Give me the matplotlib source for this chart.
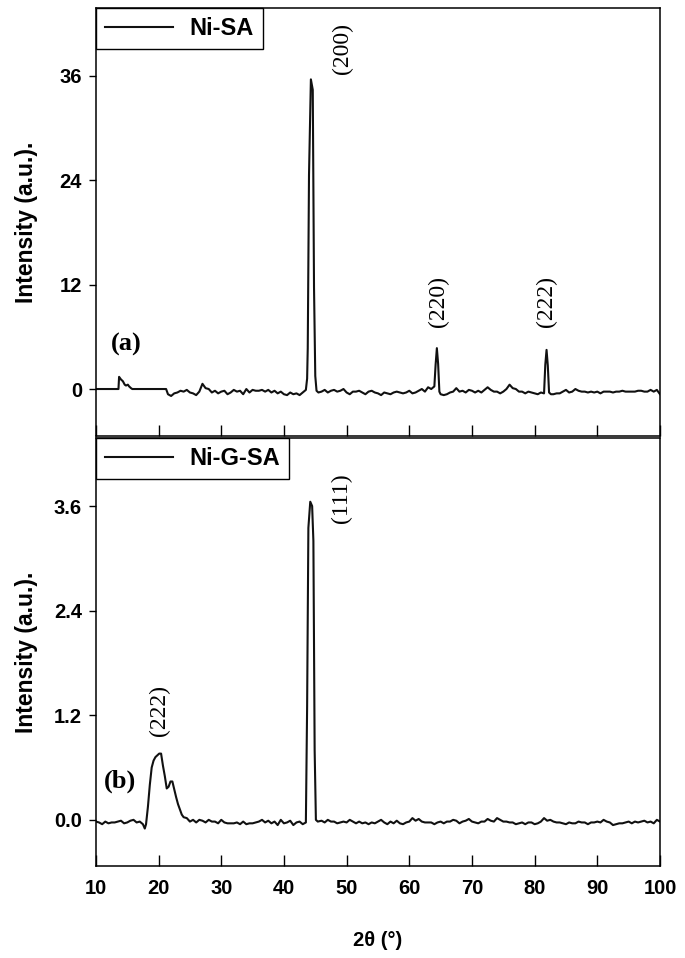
import matplotlib
matplotlib.use('Agg')
import matplotlib.pyplot as plt

plt.rcParams['font.family'] = ['Liberation Sans', 'DejaVu Sans']

# 2theta / intensity, panel (a) Ni-SA
x_a = [10, 13.6, 13.7, 14.0, 14.3, 14.6, 14.8, 15.1, 15.3, 15.6, 15.8, 21.2,
       21.5, 22, 22.5, 23, 23.5, 24, 24.5, 25, 25.5, 26, 26.5, 27, 27.5, 28, 28.5,
       29, 29.5, 30, 30.5, 31, 31.5, 32, 32.5, 33, 33.5, 34, 34.5, 35, 35.5, 36,
       36.5, 37, 37.5, 38, 38.5, 39, 39.5, 40, 40.5, 41, 41.5, 42, 42.5, 43, 43.5,
       43.7, 43.8, 44.0, 44.3, 44.6, 44.8, 45.0, 45.2, 45.5,
       46, 46.5, 47, 47.5, 48, 48.5, 49, 49.5, 50, 50.5, 51, 51.5, 52, 52.5, 53,
       53.5, 54, 54.5, 55, 55.5, 56, 56.5, 57, 57.5, 58, 58.5, 59, 59.5, 60, 60.5,
       61, 61.5, 62, 62.5, 63, 63.5, 64.0,
       64.2, 64.4, 64.6, 64.8, 65.0,
       65.5, 66, 66.5, 67, 67.5, 68, 68.5, 69, 69.5, 70, 70.5, 71, 71.5, 72, 72.5,
       73, 73.5, 74, 74.5, 75, 75.5, 76, 76.5, 77, 77.5, 78, 78.5, 79, 79.5, 80,
       80.5, 81, 81.5,
       81.7, 81.9, 82.1, 82.3, 82.6,
       83, 83.5, 84, 84.5, 85, 85.5, 86, 86.5, 87, 87.5, 88, 88.5, 89, 89.5, 90,
       90.5, 91, 91.5, 92, 92.5, 93, 93.5, 94, 94.5, 95, 95.5, 96, 96.5, 97, 97.5,
       98, 98.5, 99, 99.5, 100]
y_a = [0, 0, 1.4, 1.1, 0.9, 0.5, 0.4, 0.5, 0.3, 0.1, 0.0, 0.0,
       -0.6, -0.8, -0.5, -0.4, -0.2, -0.3, -0.1, -0.4, -0.5, -0.7, -0.3, 0.6, 0.1, 0.0, -0.4,
       -0.2, -0.5, -0.3, -0.2, -0.6, -0.4, -0.1, -0.3, -0.2, -0.6, 0.0, -0.4, -0.1, -0.2, -0.2,
       -0.1, -0.3, -0.1, -0.4, -0.2, -0.5, -0.3, -0.6, -0.7, -0.4, -0.6, -0.5, -0.7, -0.4, -0.1,
       1.2, 4.7, 24.6, 35.6, 34.4, 11.7, 1.5, -0.2, -0.4,
       -0.3, -0.1, -0.4, -0.2, -0.1, -0.3, -0.2, 0.0, -0.4, -0.6, -0.3, -0.3, -0.2, -0.4, -0.6,
       -0.3, -0.2, -0.4, -0.5, -0.7, -0.4, -0.5, -0.6, -0.4, -0.3, -0.4, -0.5, -0.4, -0.2, -0.5,
       -0.4, -0.2, 0.0, -0.3, 0.2, 0.0, 0.3,
       2.8, 4.7, 2.9, -0.3, -0.6,
       -0.7, -0.6, -0.4, -0.3, 0.1, -0.3, -0.2, -0.4, -0.1, -0.2, -0.4, -0.2, -0.4, -0.1, 0.2,
       -0.1, -0.3, -0.3, -0.5, -0.3, 0.0, 0.5, 0.1, 0.0, -0.3, -0.3, -0.5, -0.3, -0.4, -0.5,
       -0.6, -0.4, -0.5,
       2.8, 4.5, 2.7, -0.4, -0.6,
       -0.6, -0.5, -0.5, -0.3, -0.1, -0.4, -0.3, 0.0, -0.2, -0.3, -0.3, -0.4, -0.3, -0.4, -0.3,
       -0.5, -0.3, -0.3, -0.3, -0.4, -0.3, -0.3, -0.2, -0.3, -0.3, -0.3, -0.3, -0.2, -0.2, -0.3,
       -0.3, -0.1, -0.3, -0.1, -0.6]

# panel (b) Ni-G-SA
x_b = [10, 10.5, 11, 11.5, 12, 12.5, 13, 13.5, 14, 14.5, 15, 15.5, 16, 16.5, 17, 17.5,
       17.8, 18.0, 18.3, 18.6, 18.9, 19.2, 19.5, 19.8, 20.1, 20.4, 20.7, 21.0, 21.3,
       21.6, 21.9, 22.2, 22.5, 22.8, 23.1, 23.4, 23.7, 24.0, 24.5,
       25, 25.5, 26, 26.5, 27, 27.5, 28, 28.5, 29, 29.5, 30, 30.5, 31, 31.5, 32, 32.5,
       33, 33.5, 34, 34.5, 35, 35.5, 36, 36.5, 37, 37.5, 38, 38.5, 39, 39.5, 40, 40.5,
       41, 41.5, 42, 42.5, 43, 43.5,
       43.7, 43.9, 44.2, 44.5, 44.7, 44.9, 45.1, 45.4,
       46, 46.5, 47, 47.5, 48, 48.5, 49, 49.5, 50, 50.5, 51, 51.5, 52, 52.5, 53, 53.5,
       54, 54.5, 55, 55.5, 56, 56.5, 57, 57.5, 58, 58.5, 59, 59.5, 60, 60.5, 61, 61.5,
       62, 62.5, 63, 63.5, 64, 64.5, 65, 65.5, 66, 66.5, 67, 67.5, 68, 68.5, 69, 69.5,
       70, 70.5, 71, 71.5, 72, 72.5, 73, 73.5, 74, 74.5, 75, 75.5, 76, 76.5, 77, 77.5,
       78, 78.5, 79, 79.5, 80, 80.5, 81, 81.5, 82, 82.5, 83, 83.5, 84, 84.5, 85, 85.5,
       86, 86.5, 87, 87.5, 88, 88.5, 89, 89.5, 90, 90.5, 91, 91.5, 92, 92.5, 93, 93.5,
       94, 94.5, 95, 95.5, 96, 96.5, 97, 97.5, 98, 98.5, 99, 99.5, 100]
y_b = [-0.02, -0.03, -0.05, -0.02, -0.04, -0.03, -0.03, -0.02, -0.01, -0.04, -0.03, -0.01, 0.0, -0.03, -0.02, -0.05,
       -0.10, -0.05, 0.15, 0.40, 0.60, 0.68, 0.72, 0.74, 0.76, 0.76, 0.62, 0.50, 0.36,
       0.38, 0.44, 0.44, 0.35, 0.26, 0.18, 0.12, 0.06, 0.03, 0.02,
       -0.02, 0.0, -0.03, 0.0, -0.01, -0.03, 0.0, -0.02, -0.02, -0.04, 0.0, -0.03, -0.04, -0.04, -0.04, -0.03,
       -0.05, -0.02, -0.05, -0.04, -0.04, -0.03, -0.02, 0.0, -0.03, -0.01, -0.04, -0.02, -0.06, 0.0, -0.04, -0.03,
       -0.01, -0.06, -0.03, -0.02, -0.05, -0.03,
       1.30, 3.35, 3.65, 3.60, 3.20, 0.80, 0.0, -0.02,
       -0.01, -0.03, 0.0, -0.02, -0.02, -0.04, -0.03, -0.02, -0.03, 0.0, -0.02, -0.04, -0.02, -0.04, -0.03, -0.05,
       -0.03, -0.04, -0.02, 0.0, -0.03, -0.05, -0.02, -0.04, -0.01, -0.04, -0.05, -0.03, -0.02, 0.02, -0.01, 0.01,
       -0.02, -0.03, -0.03, -0.03, -0.05, -0.03, -0.02, -0.04, -0.02, -0.02, 0.0, -0.01, -0.04, -0.02, -0.01, 0.01,
       -0.02, -0.03, -0.04, -0.02, -0.02, 0.01, -0.01, -0.02, 0.02, 0.0, -0.02, -0.02, -0.03, -0.03, -0.05, -0.04,
       -0.03, -0.05, -0.03, -0.03, -0.05, -0.04, -0.02, 0.02, -0.01, 0.0, -0.02, -0.03, -0.03, -0.04, -0.05, -0.03,
       -0.04, -0.04, -0.02, -0.03, -0.03, -0.05, -0.03, -0.03, -0.02, -0.03, 0.0, -0.02, -0.03, -0.06, -0.05, -0.04,
       -0.04, -0.03, -0.02, -0.04, -0.02, -0.03, -0.02, -0.01, -0.03, -0.02, -0.04, 0.0, -0.02]

xticks = [10, 20, 30, 40, 50, 60, 70, 80, 90, 100]
yticks_a = [0, 12, 24, 36]
yticks_b = [0.0, 1.2, 2.4, 3.6]

# (label, x, y) for peak labels
peaks_a = [('(200)', 49.4, 39.2), ('(220)', 64.6, 10.1), ('(222)', 81.9, 10.1)]
peaks_b = [('(111)', 49.2, 3.69), ('(222)', 20.2, 1.25)]

fig = plt.figure(figsize=(6.85, 9.58), dpi=100)
ax1 = fig.add_axes([0.140, 0.5449, 0.8235, 0.4467])
ax2 = fig.add_axes([0.140, 0.0960, 0.8235, 0.4467])

serif = ['Liberation Serif', 'DejaVu Serif']


def style(ax, yticks, ylim, fmt):
    ax.set_xlim(10, 100)
    ax.set_ylim(*ylim)
    ax.set_xticks(xticks)
    ax.set_yticks(yticks)
    ax.set_yticklabels([fmt.format(v) for v in yticks], fontsize=14.5, fontweight='bold')
    ax.tick_params(axis='x', direction='in', length=8, width=1, top=False)
    ax.tick_params(axis='y', direction='out', length=5, width=1, right=False, pad=5)
    for s in ax.spines.values():
        s.set_linewidth(1.1)
    ax.set_ylabel('Intensity (a.u.).', fontsize=16.5, fontweight='bold')
    # same x position for both panels' labels
    ax.yaxis.set_label_coords(-0.103, 0.5)


ax1.plot(x_a, y_a, color='#111111', lw=1.5, label='Ni-SA')
style(ax1, yticks_a, (-5.4, 43.8), '{:g}')
ax1.set_xticklabels([])
for t, x, y in peaks_a:
    ax1.text(x, y, t, rotation=90, ha='center', va='center', fontsize=17, family=serif)
ax1.text(14.9, 5.1, '(a)', ha='center', va='center', fontsize=19, fontweight='bold', family=serif)

ax2.plot(x_b, y_b, color='#111111', lw=1.5, label='Ni-G-SA')
style(ax2, yticks_b, (-0.53, 4.38), '{:.1f}')
ax2.set_xticklabels([str(v) for v in xticks], fontsize=14.5, fontweight='bold')
ax2.tick_params(axis='x', pad=9)
for t, x, y in peaks_b:
    ax2.text(x, y, t, rotation=90, ha='center', va='center', fontsize=17, family=serif)
ax2.text(13.8, 0.44, '(b)', ha='center', va='center', fontsize=19, fontweight='bold', family=serif)
ax2.set_xlabel('2θ (°)', fontsize=14.5, fontweight='bold', labelpad=24)

for ax in (ax1, ax2):
    leg = ax.legend(loc='upper left', borderaxespad=0, fancybox=False, handlelength=2.9,
                    prop={'weight': 'bold', 'size': 17}, borderpad=0.38, framealpha=1,
                    handletextpad=0.7)
    leg.get_frame().set_edgecolor('black')
    leg.get_frame().set_linewidth(1.0)

fig.savefig('out.png', dpi=100)
